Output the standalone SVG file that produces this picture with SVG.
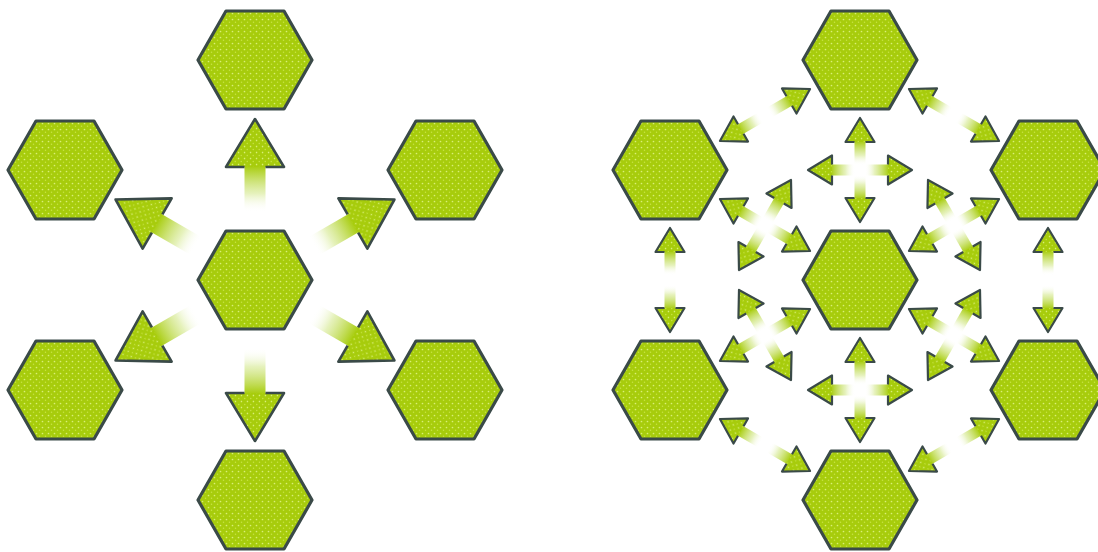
<svg xmlns="http://www.w3.org/2000/svg" xmlns:xlink="http://www.w3.org/1999/xlink" width="1098" height="552" viewBox="0 0 1098 552">
  <style>
    .hex { fill: url(#tex); stroke: #3a4a48; stroke-width: 3.2; stroke-linejoin: round; }
    .head { fill: url(#tex); }
    .edge { fill: none; stroke: #3a4a48; stroke-width: 2.6; stroke-linejoin: round; }
    .edgeSm { fill: none; stroke: #3a4a48; stroke-width: 2.2; stroke-linejoin: round; }
  </style>
  <defs>
    <pattern id="tex" width="6" height="6" patternUnits="userSpaceOnUse">
      <rect width="6" height="6" fill="#a7cc0c"/>
      <circle cx="1.5" cy="1.5" r="0.85" fill="#d9ef78"/>
      <circle cx="4.5" cy="4.3" r="0.75" fill="#c8e444"/>
    </pattern>
    <linearGradient id="fade" x1="0" y1="0" x2="1" y2="0">
      <stop offset="0" stop-color="#ffffff" stop-opacity="0"/>
      <stop offset="0.4" stop-color="#dbeca0" stop-opacity="0.7"/>
      <stop offset="1" stop-color="#a7cc0c" stop-opacity="1"/>
    </linearGradient>
    <polygon id="hexShape" class="hex" points="-57,0 -29,-49 29,-49 57,0 29,49 -29,49"/>
    <g id="bigArrow">
      <rect x="68" y="-10.5" width="46" height="21" fill="url(#fade)"/>
      <polygon class="head" points="113,-29 161,0 113,29"/>
      <polyline class="edge" points="113,-10.5 113,-29 161,0 113,29 113,10.5"/>
    </g>
    <g id="smArrow">
      <rect x="5" y="-5.5" width="24" height="11" fill="url(#fade)"/>
      <polygon class="head" points="28,-14.5 52,0 28,14.5"/>
      <polyline class="edgeSm" points="28,-5.5 28,-14.5 52,0 28,14.5 28,5.5"/>
    </g>
  </defs>
  <rect width="1098" height="552" fill="#ffffff"/>

  <!-- Left diagram nodes -->
  <g id="L-center"><use xlink:href="#hexShape" href="#hexShape" transform="translate(255,280)"/></g>
  <g id="L-top"><use xlink:href="#hexShape" href="#hexShape" transform="translate(255,60)"/></g>
  <g id="L-upper-left"><use xlink:href="#hexShape" href="#hexShape" transform="translate(65,170)"/></g>
  <g id="L-upper-right"><use xlink:href="#hexShape" href="#hexShape" transform="translate(445,170)"/></g>
  <g id="L-lower-left"><use xlink:href="#hexShape" href="#hexShape" transform="translate(65,390)"/></g>
  <g id="L-lower-right"><use xlink:href="#hexShape" href="#hexShape" transform="translate(445,390)"/></g>
  <g id="L-bottom"><use xlink:href="#hexShape" href="#hexShape" transform="translate(255,500)"/></g>

  <!-- Right diagram nodes -->
  <g id="R-center"><use xlink:href="#hexShape" href="#hexShape" transform="translate(860,280)"/></g>
  <g id="R-top"><use xlink:href="#hexShape" href="#hexShape" transform="translate(860,60)"/></g>
  <g id="R-upper-left"><use xlink:href="#hexShape" href="#hexShape" transform="translate(670,170)"/></g>
  <g id="R-upper-right"><use xlink:href="#hexShape" href="#hexShape" transform="translate(1048,170)"/></g>
  <g id="R-lower-left"><use xlink:href="#hexShape" href="#hexShape" transform="translate(670,390)"/></g>
  <g id="R-lower-right"><use xlink:href="#hexShape" href="#hexShape" transform="translate(1048,390)"/></g>
  <g id="R-bottom"><use xlink:href="#hexShape" href="#hexShape" transform="translate(860,500)"/></g>

  <g id="connectors">
    <!-- Left: radial arrows -->
    <use href="#bigArrow" transform="translate(255,280) rotate(-90)"/>
    <use href="#bigArrow" transform="translate(255,280) rotate(-30)"/>
    <use href="#bigArrow" transform="translate(255,280) rotate(30)"/>
    <use href="#bigArrow" transform="translate(255,280) rotate(90)"/>
    <use href="#bigArrow" transform="translate(255,280) rotate(150)"/>
    <use href="#bigArrow" transform="translate(255,280) rotate(-150)"/>

    <!-- Right: stars between center and outer nodes -->
    <use href="#smArrow" transform="translate(860,170) rotate(0)"/>
    <use href="#smArrow" transform="translate(860,170) rotate(90)"/>
    <use href="#smArrow" transform="translate(860,170) rotate(180)"/>
    <use href="#smArrow" transform="translate(860,170) rotate(270)"/>

    <use href="#smArrow" transform="translate(860,390) rotate(0)"/>
    <use href="#smArrow" transform="translate(860,390) rotate(90)"/>
    <use href="#smArrow" transform="translate(860,390) rotate(180)"/>
    <use href="#smArrow" transform="translate(860,390) rotate(270)"/>

    <use href="#smArrow" transform="translate(765,225) rotate(30)"/>
    <use href="#smArrow" transform="translate(765,225) rotate(120)"/>
    <use href="#smArrow" transform="translate(765,225) rotate(210)"/>
    <use href="#smArrow" transform="translate(765,225) rotate(300)"/>

    <use href="#smArrow" transform="translate(954,225) rotate(-30)"/>
    <use href="#smArrow" transform="translate(954,225) rotate(60)"/>
    <use href="#smArrow" transform="translate(954,225) rotate(150)"/>
    <use href="#smArrow" transform="translate(954,225) rotate(240)"/>

    <use href="#smArrow" transform="translate(765,335) rotate(-30)"/>
    <use href="#smArrow" transform="translate(765,335) rotate(60)"/>
    <use href="#smArrow" transform="translate(765,335) rotate(150)"/>
    <use href="#smArrow" transform="translate(765,335) rotate(240)"/>

    <use href="#smArrow" transform="translate(954,335) rotate(30)"/>
    <use href="#smArrow" transform="translate(954,335) rotate(120)"/>
    <use href="#smArrow" transform="translate(954,335) rotate(210)"/>
    <use href="#smArrow" transform="translate(954,335) rotate(300)"/>

    <!-- Right: ring double arrows between adjacent outer nodes -->
    <use href="#smArrow" transform="translate(765,115) rotate(-30)"/>
    <use href="#smArrow" transform="translate(765,115) rotate(150)"/>
    <use href="#smArrow" transform="translate(954,115) rotate(-150)"/>
    <use href="#smArrow" transform="translate(954,115) rotate(30)"/>
    <use href="#smArrow" transform="translate(1048,280) rotate(-90)"/>
    <use href="#smArrow" transform="translate(1048,280) rotate(90)"/>
    <use href="#smArrow" transform="translate(954,445) rotate(-30)"/>
    <use href="#smArrow" transform="translate(954,445) rotate(150)"/>
    <use href="#smArrow" transform="translate(765,445) rotate(30)"/>
    <use href="#smArrow" transform="translate(765,445) rotate(-150)"/>
    <use href="#smArrow" transform="translate(670,280) rotate(-90)"/>
    <use href="#smArrow" transform="translate(670,280) rotate(90)"/>
  </g>
</svg>
